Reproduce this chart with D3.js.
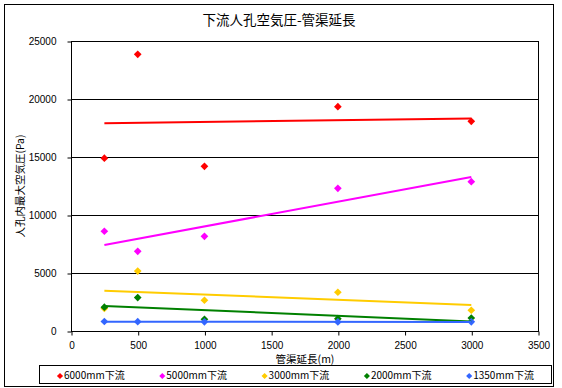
<!DOCTYPE html>
<html>
<head>
<meta charset="utf-8">
<script src="https://cdn.jsdelivr.net/npm/d3@7"></script>
<style>
  html, body { margin: 0; padding: 0; background: #fff; }
  svg { display: block; }
</style>
</head>
<body>
<svg id="chart" width="562" height="388"></svg>
<script>
// 下流人孔空気圧 vs 管渠延長 — scatter with linear trendlines per series.
const lengths = [250, 500, 1000, 2000, 3000];
const seriesNames = ["6000mm下流", "5000mm下流", "3000mm下流", "2000mm下流", "1350mm下流"];
const seriesColors = ["#ff0000", "#ff00ff", "#ffcc00", "#008000", "#3366ff"];
const p6000 = [14900, 23850, 14200, 19340, 18080];
const p5000 = [8600, 6870, 8160, 12300, 12870];
const p3000 = [1950, 5170, 2650, 3340, 1790];
const p2000 = [2050, 2880, 1010, 1060, 1120];
const p1350 = [820, 800, 790, 780, 790];
const xTicks = [0, 500, 1000, 1500, 2000, 2500, 3000, 3500];
const yTicks = [0, 5000, 10000, 15000, 20000, 25000];

const series = [p6000, p5000, p3000, p2000, p1350].map((vals, i) => ({
  name: seriesNames[i],
  color: seriesColors[i],
  points: vals.map((v, j) => ({ x: lengths[j], y: v })),
}));

const FONT_JP = "'Noto Sans CJK JP', sans-serif";
const FONT_NUM = "'Liberation Sans', Arial, sans-serif";

const svg = d3.select("#chart");
const M = { left: 71, right: 538, top: 41, bottom: 331 };

const x = d3.scaleLinear().domain([0, 3500]).range([M.left, M.right]);
const y = d3.scaleLinear().domain([0, 25000]).range([M.bottom, M.top]);

// outer chart border
svg.append("rect")
  .attr("x", 4.5).attr("y", 4.5).attr("width", 549).attr("height", 382)
  .attr("fill", "#fff").attr("stroke", "#000").attr("stroke-width", 1);

// title
svg.append("text")
  .attr("x", 279).attr("y", 25)
  .attr("text-anchor", "middle")
  .attr("font-family", FONT_JP).attr("font-size", 13.5)
  .text("下流人孔空気圧-管渠延長");

// gridlines
svg.append("g").selectAll("line").data(yTicks.slice(1)).join("line")
  .attr("x1", M.left).attr("x2", M.right)
  .attr("y1", (d) => Math.round(y(d)) + 0.5).attr("y2", (d) => Math.round(y(d)) + 0.5)
  .attr("stroke", "#000").attr("stroke-width", 1);

// plot frame
svg.append("rect")
  .attr("x", M.left + 0.5).attr("y", M.top + 0.5)
  .attr("width", M.right - M.left).attr("height", M.bottom - M.top)
  .attr("fill", "none").attr("stroke", "#000").attr("stroke-width", 1);

// axes
const fmt = d3.format("d");
const xAxis = svg.append("g")
  .attr("transform", `translate(0.5,${M.bottom + 0.5})`)
  .call(d3.axisBottom(x).tickValues(xTicks).tickFormat(fmt).tickSize(4).tickSizeOuter(0).tickPadding(6));
const yAxis = svg.append("g")
  .attr("transform", `translate(${M.left + 0.5},0.5)`)
  .call(d3.axisLeft(y).tickValues(yTicks).tickFormat(fmt).tickSize(4).tickSizeOuter(0).tickPadding(11));
[xAxis, yAxis].forEach((g) => {
  g.select(".domain").remove();
  g.selectAll("text").attr("font-family", FONT_NUM).attr("font-size", 10).attr("fill", "#000");
});

// axis titles
svg.append("text")
  .attr("x", 305).attr("y", 363)
  .attr("text-anchor", "middle")
  .attr("font-family", FONT_JP).attr("font-size", 10.5)
  .text("管渠延長(m)");
svg.append("text")
  .attr("transform", `translate(24,${(M.top + M.bottom) / 2}) rotate(-90)`)
  .attr("text-anchor", "middle")
  .attr("font-family", FONT_JP).attr("font-size", 10.5)
  .text("人孔内最大空気圧(Pa)");

// least squares trendline over each series' x range
function trend(pts) {
  const mx = d3.mean(pts, (p) => p.x), my = d3.mean(pts, (p) => p.y);
  const sxy = d3.sum(pts, (p) => (p.x - mx) * (p.y - my));
  const sxx = d3.sum(pts, (p) => (p.x - mx) ** 2);
  const b = sxy / sxx, a = my - b * mx;
  const [x0, x1] = d3.extent(pts, (p) => p.x);
  return [{ x: x0, y: a + b * x0 }, { x: x1, y: a + b * x1 }];
}

const line = d3.line().x((d) => x(d.x)).y((d) => y(d.y));
const diamond = d3.symbol().type(d3.symbolDiamond2).size(38);

const gSeries = svg.append("g");
series.forEach((s) => {
  gSeries.append("g").selectAll("path").data(s.points).join("path")
    .attr("transform", (d) => `translate(${x(d.x)},${y(d.y)})`)
    .attr("d", diamond)
    .attr("fill", s.color);
});
series.forEach((s) => {
  gSeries.append("path")
    .datum(trend(s.points))
    .attr("d", line)
    .attr("fill", "none")
    .attr("stroke", s.color)
    .attr("stroke-width", 2);
});

// legend
svg.append("rect")
  .attr("x", 39.5).attr("y", 365.5).attr("width", 512).attr("height", 18)
  .attr("fill", "#fff").attr("stroke", "#000").attr("stroke-width", 1);
const legend = svg.append("g").selectAll("g").data(series).join("g")
  .attr("transform", (d, i) => `translate(${60 + i * 102.3},375)`);
legend.append("path")
  .attr("transform", "translate(0,1)")
  .attr("d", d3.symbol().type(d3.symbolDiamond2).size(24))
  .attr("fill", (d) => d.color);
legend.append("text")
  .attr("x", 4).attr("y", 4)
  .attr("font-family", FONT_JP).attr("font-size", 10)
  .text((d) => d.name);
</script>
</body>
</html>
